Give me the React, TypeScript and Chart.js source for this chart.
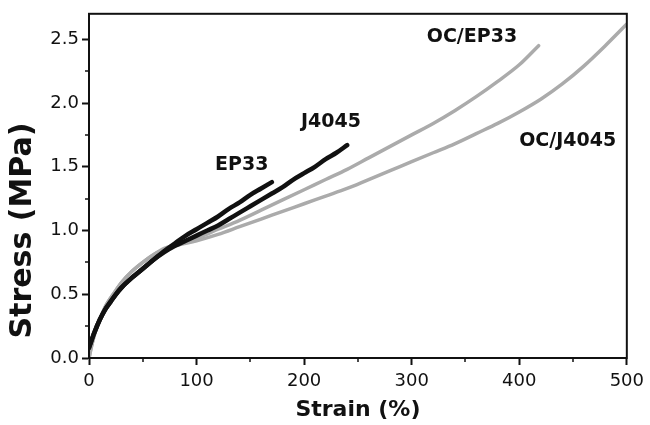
import React, { useEffect, useRef } from 'react';
import { Chart, registerables } from 'chart.js';

Chart.register(...registerables);

// ---- data (strain %, stress MPa) ----
const ep33Strain = [0, 2, 5, 10, 15, 20, 25, 30, 40, 50, 60, 70, 80, 90, 100, 110, 120, 130, 140, 150, 160, 170];
const ep33Stress = [0.08, 0.13, 0.2, 0.3, 0.38, 0.44, 0.5, 0.55, 0.63, 0.7, 0.77, 0.84, 0.9, 0.96, 1.01, 1.06, 1.11, 1.17, 1.22, 1.28, 1.33, 1.38];

const j4045Strain = [0, 2, 5, 10, 15, 20, 25, 30, 40, 50, 60, 70, 80, 90, 100, 110, 120, 130, 140, 150, 160, 170, 180, 190, 200, 210, 220, 230, 240];
const j4045Stress = [0.08, 0.13, 0.2, 0.3, 0.38, 0.44, 0.5, 0.55, 0.63, 0.7, 0.77, 0.83, 0.88, 0.92, 0.96, 1.0, 1.04, 1.09, 1.14, 1.19, 1.24, 1.29, 1.34, 1.4, 1.45, 1.5, 1.56, 1.61, 1.67];

const ocEp33Strain = [0, 2, 5, 10, 15, 20, 25, 30, 40, 50, 60, 70, 80, 100, 120, 140, 160, 180, 200, 220, 240, 260, 280, 300, 320, 340, 360, 380, 400, 418];
const ocEp33Stress = [0.0, 0.08, 0.18, 0.3, 0.4, 0.47, 0.53, 0.59, 0.68, 0.75, 0.81, 0.86, 0.89, 0.94, 1.01, 1.08, 1.16, 1.24, 1.32, 1.4, 1.48, 1.57, 1.66, 1.75, 1.84, 1.94, 2.05, 2.17, 2.3, 2.45];

const ocJ4045Strain = [0, 2, 5, 10, 15, 20, 25, 30, 40, 50, 60, 70, 80, 100, 120, 140, 160, 180, 200, 220, 240, 260, 280, 300, 320, 340, 360, 380, 400, 420, 440, 460, 480, 500];
const ocJ4045Stress = [0.0, 0.08, 0.18, 0.3, 0.4, 0.47, 0.53, 0.59, 0.68, 0.75, 0.81, 0.85, 0.88, 0.92, 0.97, 1.03, 1.09, 1.15, 1.21, 1.27, 1.33, 1.4, 1.47, 1.54, 1.61, 1.68, 1.76, 1.84, 1.93, 2.03, 2.15, 2.29, 2.45, 2.62];

const minorXTicks = [50, 150, 250, 350, 450];
const minorYTicks = [0.25, 0.75, 1.25, 1.75, 2.25];

const curveLabelText = ['EP33', 'J4045', 'OC/EP33', 'OC/J4045'];
const curveLabelStrain = [142, 225, 356, 445];
const curveLabelStress = [1.51, 1.85, 2.52, 1.7];

const yTitle = 'Stress (MPa)';
const xTitle = 'Strain (%)';

const FONT = '"DejaVu Sans", "Liberation Sans", Arial, sans-serif';

const pts = (xs: number[], ys: number[]) => xs.map((x, i) => ({ x, y: ys[i] }));

const decorPlugin = {
  id: 'decor',
  afterDraw(chart: any) {
    const { ctx, chartArea: a, scales } = chart;
    const x = scales.x;
    const y = scales.y;
    ctx.save();
    ctx.strokeStyle = '#111';
    ctx.lineWidth = 2;
    ctx.strokeRect(a.left, a.top, a.right - a.left, a.bottom - a.top);
    ctx.lineWidth = 1.5;
    ctx.beginPath();
    minorXTicks.forEach((v) => {
      const px = Math.round(x.getPixelForValue(v));
      ctx.moveTo(px, a.bottom);
      ctx.lineTo(px, a.bottom + 4);
    });
    minorYTicks.forEach((v) => {
      const py = Math.round(y.getPixelForValue(v));
      ctx.moveTo(a.left, py);
      ctx.lineTo(a.left - 4, py);
    });
    ctx.stroke();

    ctx.fillStyle = '#111';
    ctx.textAlign = 'center';
    ctx.textBaseline = 'middle';
    ctx.font = 'bold 19px ' + FONT;
    curveLabelText.forEach((t, i) => {
      ctx.fillText(t, x.getPixelForValue(curveLabelStrain[i]), y.getPixelForValue(curveLabelStress[i]));
    });

    ctx.translate(y.left + 23, y.getPixelForValue(1.0));
    ctx.rotate(-Math.PI / 2);
    ctx.font = 'bold 30px ' + FONT;
    ctx.fillText(yTitle, 0, 0);
    ctx.restore();
  },
};

export default function App() {
  const ref = useRef<HTMLCanvasElement | null>(null);

  useEffect(() => {
    if (!ref.current) return;
    Chart.defaults.font.family = FONT;
    Chart.defaults.color = '#111';
    const black = '#111111';
    const gray = '#ababab';
    const chart = new Chart(ref.current, {
      type: 'line',
      data: {
        datasets: [
          { label: 'EP33', data: pts(ep33Strain, ep33Stress), borderColor: black, borderWidth: 4.5 },
          { label: 'J4045', data: pts(j4045Strain, j4045Stress), borderColor: black, borderWidth: 4.5 },
          { label: 'OC/EP33', data: pts(ocEp33Strain, ocEp33Stress), borderColor: gray, borderWidth: 3.5 },
          { label: 'OC/J4045', data: pts(ocJ4045Strain, ocJ4045Stress), borderColor: gray, borderWidth: 3.5 },
        ].map((d) => ({ ...d, pointRadius: 0, fill: false, cubicInterpolationMode: 'monotone' as const, borderCapStyle: 'round' as const })),
      },
      options: {
        animation: false,
        responsive: false,
        devicePixelRatio: 1,
        layout: { padding: { top: 12, right: 21, left: 0, bottom: 0 } },
        plugins: { legend: { display: false }, tooltip: { enabled: false } },
        scales: {
          x: {
            type: 'linear',
            min: 0,
            max: 500,
            border: { display: true, color: '#111', width: 2 },
            grid: { drawOnChartArea: false, drawTicks: true, tickLength: 7, tickWidth: 2, tickColor: '#111', color: '#111' },
            ticks: { stepSize: 100, includeBounds: false, padding: 6, maxRotation: 0, autoSkip: false, color: '#111', font: { size: 18, family: FONT } },
            title: { display: true, text: xTitle, color: '#111', font: { size: 22, weight: 'bold', family: FONT }, padding: { top: 0, bottom: 2 } },
            afterFit: (s: any) => { s.height = 67; },
          },
          y: {
            type: 'linear',
            min: 0,
            max: 2.7,
            border: { display: true, color: '#111', width: 2 },
            grid: { drawOnChartArea: false, drawTicks: true, tickLength: 7, tickWidth: 2, tickColor: '#111', color: '#111' },
            ticks: { stepSize: 0.5, includeBounds: false, padding: 3, color: '#111', font: { size: 18, family: FONT }, callback: (v: any) => Number(v).toFixed(1) },
            afterFit: (s: any) => { s.width = 89; },
          },
        },
      },
      plugins: [decorPlugin],
    } as any);
    return () => chart.destroy();
  }, []);

  return (
    <div style={{ position: 'absolute', left: 0, top: 0, width: 650, height: 425, background: '#fff' }}>
      <canvas ref={ref} width={650} height={425} style={{ display: 'block' }} />
    </div>
  );
}
